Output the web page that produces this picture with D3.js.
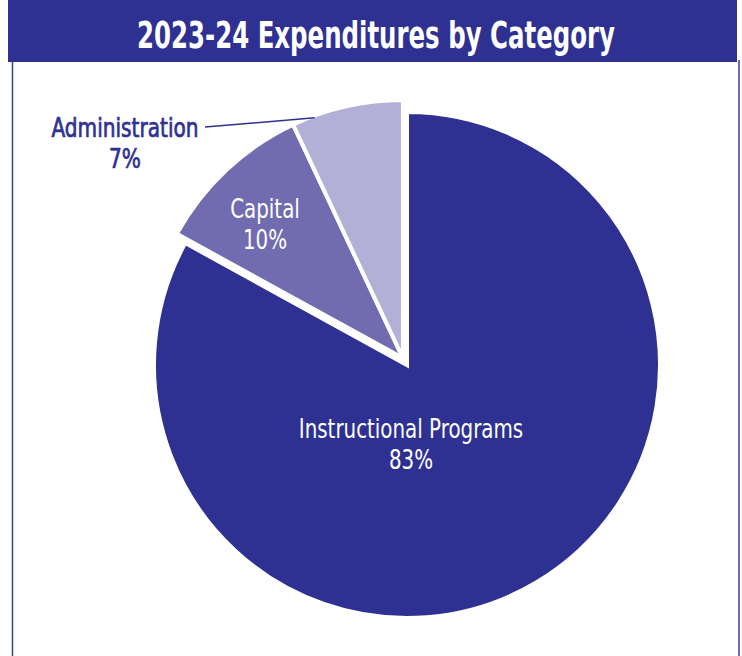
<!DOCTYPE html>
<html><head><meta charset="utf-8">
<script src="https://cdn.jsdelivr.net/npm/d3@7"></script>
<style>
html,body{margin:0;padding:0;background:#fff;}
svg{display:block;}
</style></head>
<body>
<svg id="chart" width="742" height="656"></svg>
<script>
const title = "2023-24 Expenditures by Category";
const categories = ["Instructional Programs", "Capital", "Administration"];
const values = [83, 10, 7];
const colors = ["#2E3192", "#716BAF", "#B2B0D7"];

const W = 742, H = 656;
const svg = d3.select("#chart");
const FONT = "'DejaVu Sans Condensed','DejaVu Sans',sans-serif";
const dark = "#2E3192";

// frame (left / right sides)
svg.append("line").attr("x1", 12.5).attr("x2", 12.5).attr("y1", 60).attr("y2", H)
  .attr("stroke", "#3a3d98").attr("stroke-width", 1.5);
svg.append("line").attr("x1", 739).attr("x2", 739).attr("y1", 60).attr("y2", H)
  .attr("stroke", "#6f6cb6").attr("stroke-width", 2);
// title bar
svg.append("rect").attr("x", 8).attr("y", 0).attr("width", 729).attr("height", 62).attr("fill", dark);
svg.append("text").attr("transform", "translate(376,48) scale(0.715,1)")
  .attr("text-anchor", "middle")
  .attr("fill", "#fff").attr("font-family", FONT).attr("font-weight", "bold")
  .attr("font-size", 38).text(title);

const cx = 407, cy = 365;
const rMain = 253, rSmall = 258, explode = 8;

const data = categories.map((c, i) => ({ name: c, value: values[i], color: colors[i] }));
const pie = d3.pie().sort(null).value(d => d.value).startAngle(0).endAngle(2 * Math.PI);
const arcs = pie(data);

// common explode direction of the minor slices
const minor = arcs.slice(1);
const midA = (d3.min(minor, d => d.startAngle) + d3.max(minor, d => d.endAngle)) / 2;
const ox = Math.sin(midA) * explode, oy = -Math.cos(midA) * explode;

const g = svg.append("g").attr("transform", `translate(${cx},${cy})`);
const arcMain = d3.arc().innerRadius(0).outerRadius(rMain);
const arcSmall = d3.arc().innerRadius(0).outerRadius(rSmall);

arcs.forEach((a, i) => {
  const isMain = i === 0;
  g.append("path")
    .attr("d", isMain ? arcMain(a) : arcSmall(a))
    .attr("transform", isMain ? null : `translate(${ox},${oy})`)
    .attr("fill", a.data.color)
    .attr("stroke", "#fff").attr("stroke-width", 4).attr("stroke-linejoin", "miter");
});

function label(x, y, lines, color, size, sx, bold) {
  const t = g.append("text").attr("text-anchor", "middle").attr("fill", color)
    .attr("transform", `translate(${x},${y}) scale(${sx},1)`)
    .attr("font-family", FONT).attr("font-size", size);
  if (bold) t.attr("stroke", color).attr("stroke-width", 0.7);
  lines.forEach((l, k) => t.append("tspan").attr("x", 0).attr("y", k * 31).text(l));
}

// Instructional label
label(4, 73, [categories[0], values[0] + "%"], "#fff", 26, 0.85, false);
// Capital label
label(-142, -147, [categories[1], values[1] + "%"], "#fff", 26, 0.85, false);
// Administration label outside, with leader
const adm = arcs[2];
const la = adm.startAngle + (adm.endAngle - adm.startAngle) * 0.2;
const lp = [Math.sin(la) * (rSmall - 2) + ox, -Math.cos(la) * (rSmall - 2) + oy];
label(-282, -228, [categories[2], values[2] + "%"], dark, 26, 0.86, true);
g.append("line").attr("x1", -202).attr("y1", -238).attr("x2", lp[0]).attr("y2", lp[1])
  .attr("stroke", dark).attr("stroke-width", 1.5);
</script>
</body></html>
